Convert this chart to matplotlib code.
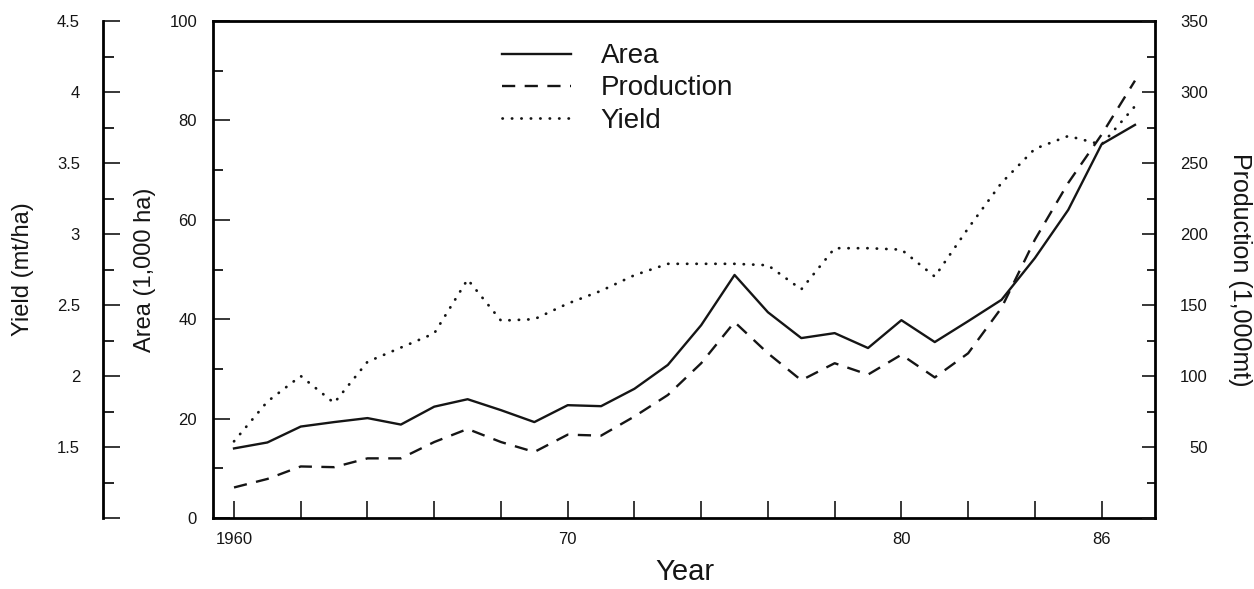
import matplotlib
matplotlib.use("Agg")
import matplotlib.pyplot as plt
from matplotlib.ticker import MultipleLocator, FixedLocator, FixedFormatter

plt.rcParams["font.family"] = ["Liberation Sans", "DejaVu Sans"]

# Valores (1960-1987)
anos = list(range(1960, 1988))
area = [14.0, 15.2, 18.4, 19.3, 20.1, 18.8, 22.4, 23.9, 21.7, 19.3,
        22.7, 22.5, 26.0, 30.8, 38.8, 48.9, 41.4, 36.2, 37.2, 34.2,
        39.8, 35.4, 39.6, 43.9, 52.3, 62.0, 75.2, 79.1]
producao = [21.5, 27.5, 36.3, 35.8, 42.0, 42.0, 53.5, 62.7, 53.5, 46.5,
            58.7, 58.0, 71.5, 86.6, 109.0, 138.0, 116.0, 97.0, 109.0, 101.0,
            115.0, 99.0, 116.0, 148.0, 196.0, 236.0, 270.0, 308.0]
rendimento = [1.54, 1.82, 2.00, 1.81, 2.10, 2.20, 2.30, 2.68, 2.39, 2.40,
              2.51, 2.60, 2.71, 2.79, 2.79, 2.79, 2.78, 2.61, 2.90, 2.90,
              2.89, 2.70, 3.04, 3.36, 3.60, 3.69, 3.63, 3.90]

xticks = list(range(1960, 1987, 2))
xlabels = ["1960", "", "", "", "", "70", "", "", "", "", "80", "", "", "86"]

cor = "#151515"
W, H = 1254, 589

fig = plt.figure(figsize=(W / 100, H / 100), dpi=100)
fig.patch.set_facecolor("white")
ax = fig.add_axes([213 / W, 1 - 518 / H, 942 / W, 497 / H])
ax_p = ax.twinx()
ax_y = ax.twinx()

l_area, = ax.plot(anos, area, color=cor, lw=1.7, label="Area")
l_prod, = ax_p.plot(anos, producao, color=cor, lw=1.7,
                    linestyle=(0, (5.6, 4.0)), label="Production")
l_yld, = ax_y.plot(anos, rendimento, color=cor, lw=2.0,
                   linestyle=(0, (0.1, 3.3)), dash_capstyle="round",
                   label="Yield")

ax.set_xlim(1959.37, 1987.6)
ax.set_ylim(0, 100)
ax_p.set_ylim(0, 350)
ax_y.set_ylim(1.0, 4.5)

# eixo principal (area)
for lado in ["left", "top", "bottom"]:
    ax.spines[lado].set_linewidth(2.0)
ax.spines["right"].set_visible(False)
ax.xaxis.set_major_locator(FixedLocator(xticks))
ax.xaxis.set_major_formatter(FixedFormatter(xlabels))
ax.tick_params(axis="x", direction="in", length=12, width=1.2, pad=10,
               labelsize=12, top=False, colors=cor)
ax.yaxis.set_major_locator(MultipleLocator(20))
ax.yaxis.set_minor_locator(MultipleLocator(10))
ax.tick_params(axis="y", which="major", direction="in", length=12.5,
               width=1.2, pad=11.5, labelsize=12, colors=cor)
ax.tick_params(axis="y", which="minor", direction="in", length=7.2,
               width=1.2)

# producao (direita)
for lado in ["left", "top", "bottom"]:
    ax_p.spines[lado].set_visible(False)
ax_p.spines["right"].set_linewidth(2.0)
ax_p.yaxis.set_major_locator(FixedLocator(list(range(0, 351, 50))))
ax_p.yaxis.set_major_formatter(FixedFormatter([""] + [str(v) for v in range(50, 351, 50)]))
ax_p.yaxis.set_minor_locator(MultipleLocator(25))
ax_p.tick_params(axis="y", which="major", direction="in", length=9.4,
                 width=1.2, pad=38, labelsize=12, colors=cor)
ax_p.tick_params(axis="y", which="minor", direction="in", length=5.8,
                 width=1.2)
for t in ax_p.get_yticklabels():
    t.set_horizontalalignment("right")

# rendimento (eixo deslocado a esquerda)
for lado in ["right", "top", "bottom"]:
    ax_y.spines[lado].set_visible(False)
ax_y.spines["left"].set_visible(True)
ax_y.spines["left"].set_position(("axes", -0.1168))
ax_y.spines["left"].set_linewidth(2.0)
ax_y.yaxis.set_ticks_position("left")
ax_y.yaxis.set_label_position("left")
ax_y.yaxis.set_major_locator(FixedLocator([1.0, 1.5, 2.0, 2.5, 3.0, 3.5, 4.0, 4.5]))
ax_y.yaxis.set_major_formatter(FixedFormatter(["", "1.5", "2", "2.5", "3", "3.5", "4", "4.5"]))
ax_y.yaxis.set_minor_locator(MultipleLocator(0.25))
ax_y.tick_params(axis="y", which="major", direction="in", length=12.5,
                 width=1.2, pad=16.5, labelsize=12, colors=cor)
ax_y.tick_params(axis="y", which="minor", direction="in", length=8,
                 width=1.2)

# rotulos dos eixos
ax.set_ylabel("Area (1,000 ha)", fontsize=17, color=cor)
ax.yaxis.set_label_coords((145 - 213) / 942, 0.5)
ax.yaxis.label.set_verticalalignment("center")
ax_y.set_ylabel("Yield (mt/ha)", fontsize=17, color=cor)
ax_y.yaxis.set_label_coords((23 - 213) / 942, 0.5)
ax_y.yaxis.label.set_verticalalignment("center")
ax_p.set_ylabel("Production (1,000mt)", fontsize=18, color=cor, rotation=270)
ax_p.yaxis.set_label_coords((1240 - 213) / 942, 0.5)
ax_p.yaxis.label.set_verticalalignment("center")
ax.set_xlabel("Year", fontsize=21, color=cor)
ax.xaxis.set_label_coords(0.501, (518 - 572) / 497)
ax.xaxis.label.set_verticalalignment("center")

leg = ax.legend([l_area, l_prod, l_yld], ["Area", "Production", "Yield"],
                loc="upper left", bbox_to_anchor=((502 - 213) / 942, 0.955),
                frameon=False, fontsize=20, handlelength=2.5,
                handletextpad=1.05, labelspacing=0.22, borderpad=0,
                borderaxespad=0)
for t in leg.get_texts():
    t.set_color(cor)

fig.savefig("out.png", dpi=100, facecolor="white")
